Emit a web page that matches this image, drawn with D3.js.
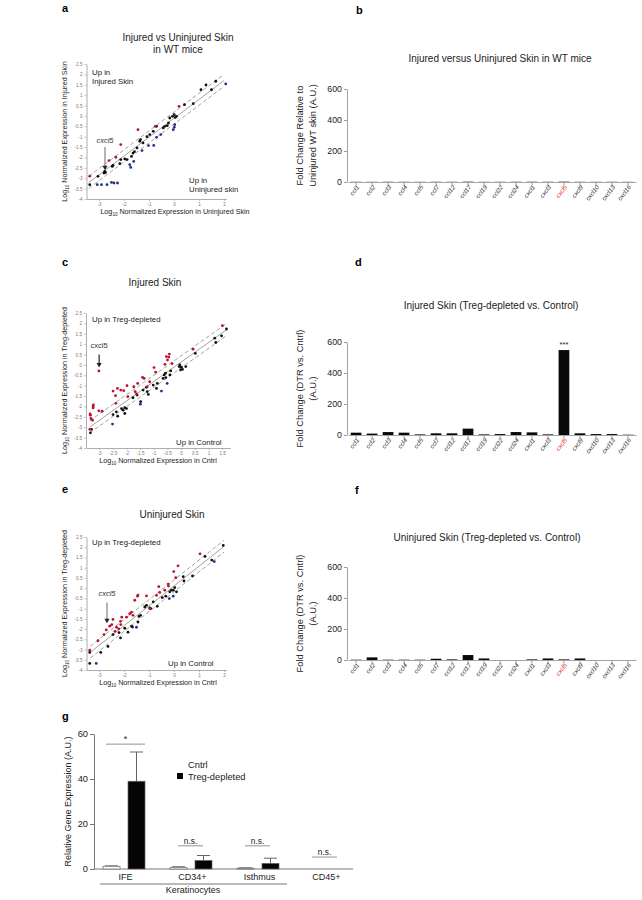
<!DOCTYPE html>
<html>
<head>
<meta charset="utf-8">
<script src="https://cdn.jsdelivr.net/npm/d3@7"></script>
<style>
	body { margin: 0; background: #fff; }
	text { font-family: Arial, "Liberation Sans", sans-serif; }
</style>
</head>
<body>
<svg id="fig" width="642" height="900"></svg>
<script>
// ---------- data ----------
const genes = ["ccl1", "ccl2", "ccl3", "ccl4", "ccl5", "ccl7", "ccl12", "ccl17", "ccl19", "ccl22", "ccl24", "cxcl1", "cxcl3", "cxcl5", "cxcl9", "cxcl10", "cxcl13", "cxcl16"]
const foldB = [1.2, 1, 1.5, 1.1, 1, 1.3, 1.2, 2, 1, 1.1, 1.4, 1.6, 1.3, 2.2, 1.1, 1, 1.2, 1]
const foldD = [15, 9, 19, 15, 4, 11, 11, 41, 4, 6, 19, 17, 4, 548, 11, 6, 6, 2]
const foldF = [2, 17, 2, 2, 2, 8, 4, 32, 10, 0, 0, 4, 10, 4, 10, 0, 0, 0]
const barTicks = [0, 200, 400, 600]

const scatterYTicks = [2.5, 2, 1.5, 1, 0.5, 0, -0.5, -1, -1.5, -2, -2.5, -3, -3.5, -4]
const ticksWide = [-3, -2, -1, 0, 1, 2]
const ticksHalf = [-3, -2.5, -2, -1.5, -1, -0.5, 0, 0.5, 1, 1.5]

// panel a : injured (y) vs uninjured (x), WT
const aRed = [[-3.37, -2.9], [-2.13, -1.38], [-2.6, -2.15], [-2.33, -1.99], [-1.44, -0.66], [-0.75, -0.5], [0.2, 0.46]]
const aBlue = [[-3.07, -3.31], [-2.9, -3.31], [-2.68, -3.31], [-2.5, -3.2], [-2.4, -3.23], [-2.26, -3.23], [-1.73, -2.48], [-1.77, -2.35], [-1.61, -2.19], [-1.28, -1.67], [-1.02, -1.43], [-0.81, -1.42], [-0.7, -1.03], [-0.53, -0.9], [-0.03, -0.66], [0.01, -0.55], [0.03, -0.42], [2.07, 1.54]]
const aBlack = [[-3.37, -3.31], [-3.04, -2.91], [-2.8, -2.75], [-2.77, -2.67], [-2.74, -2.72], [-2.47, -2.43], [-2.44, -2.38], [-2.17, -2.3], [-2.13, -2.1], [-1.97, -2.07], [-1.88, -2.1], [-1.7, -1.95], [-1.64, -1.79], [-1.58, -1.72], [-1.48, -1.54], [-1.37, -1.22], [-1.34, -1.14], [-1.24, -1.3], [-1.08, -1.0], [-0.97, -0.9], [-0.83, -0.74], [-0.7, -0.5], [-0.43, -0.58], [-0.37, -0.5], [-0.27, -0.47], [-0.22, -0.34], [-0.17, -0.1], [-0.06, -0.02], [0.01, 0.06], [0.05, -0.07], [0.1, -0.02], [0.42, 0.54], [0.77, 0.59], [1.08, 1.26], [1.28, 1.49], [1.5, 1.26], [1.67, 1.67]]
const aFit = [[-3.4, -3.2], [2, 1.7]]

// panel c : injured skin, Treg-depleted (y) vs control (x)
const cRed = [[-3.34, -3.1], [-3.32, -2.42], [-3.33, -2.36], [-3.3, -2.58], [-3.24, -2.66], [-3.22, -2.0], [-3.21, -1.93], [-3.22, -2.07], [-3.01, -2.21], [-2.89, -2.23], [-3.01, -0.29], [-2.49, -1.26], [-2.4, -1.48], [-2.39, -1.85], [-2.33, -1.13], [-2.21, -1.21], [-2.1, -1.24], [-1.98, -1.0], [-1.95, -1.53], [-1.73, -1.05], [-1.68, -1.29], [-1.63, -1.4], [-1.59, -0.89], [-1.41, -0.6], [-1.35, -0.65], [-1.24, -1.05], [-1.15, -0.81], [-0.99, -0.13], [-0.93, -0.35], [-0.59, 0.03], [-0.54, 0.4], [-0.5, 0.24], [-0.43, 0.52], [-0.45, 0.38], [-0.33, 0.06], [0.44, 0.76], [1.51, 1.89]]
const cBlue = [[-2.51, -2.85], [-1.49, -1.89], [-0.72, -1.26], [-0.51, -0.89]]
const cBlack = [[-3.32, -3.27], [-3.28, -3.1], [-2.49, -2.39], [-2.37, -2.26], [-2.32, -2.47], [-2.18, -2.1], [-2.12, -2.18], [-2.06, -2.06], [-2.0, -2.1], [-2.06, -2.34], [-1.76, -1.58], [-1.61, -1.45], [-1.48, -1.77], [-1.39, -1.21], [-1.27, -1.08], [-1.24, -1.29], [-1.2, -1.42], [-1.02, -0.97], [-0.9, -1.13], [-0.87, -0.89], [-0.66, -0.65], [-0.62, -0.48], [-0.57, -0.4], [-0.56, -0.61], [-0.41, -0.48], [-0.38, -0.29], [-0.07, -0.08], [-0.05, 0.0], [0.01, -0.11], [0.05, -0.21], [-0.02, -0.24], [0.17, -0.08], [0.52, 0.56], [1.23, 1.29], [1.27, 1.08], [1.48, 1.4], [1.66, 1.73]]
const cFit = [[-3.35, -3.0], [1.66, 1.69]]

// panel e : uninjured skin, Treg-depleted (y) vs control (x)
const eRed = [[-3.37, -3.03], [-3.04, -2.57], [-2.8, -2.27], [-2.71, -2.04], [-2.57, -1.86], [-2.49, -1.78], [-2.44, -1.53], [-2.36, -2.11], [-2.3, -1.91], [-2.21, -1.99], [-2.13, -1.78], [-2.09, -1.42], [-2.14, -1.62], [-1.9, -1.42], [-1.77, -1.25], [-1.7, -1.17], [-1.64, -1.33], [-1.57, -0.59], [-1.46, -0.39], [-1.44, -0.34], [-1.1, -0.38], [-0.97, -1.0], [-0.7, -0.35], [-0.61, 0.07], [-0.57, -0.21], [-0.37, -0.1], [-0.23, 0.2], [-0.22, 0.1], [-0.01, 0.81], [0.07, 0.51], [0.16, 1.09], [1.04, 1.68]]
const eBlue = [[-3.11, -3.68], [-1.5, -1.91], [-0.19, -0.51], [-0.03, -0.39], [1.61, 1.3]]
const eBlack = [[-3.37, -3.14], [-3.37, -3.68], [-2.93, -3.14], [-2.64, -2.85], [-2.44, -2.27], [-2.2, -2.17], [-2.14, -2.43], [-1.97, -1.96], [-1.84, -2.15], [-1.7, -1.86], [-1.66, -1.9], [-1.44, -1.66], [-1.4, -1.38], [-1.34, -1.33], [-1.17, -0.92], [-1.1, -0.84], [-0.97, -0.97], [-0.93, -1.0], [-0.83, -0.67], [-0.67, -0.89], [-0.47, -0.46], [-0.33, -0.39], [-0.17, -0.18], [-0.1, -0.1], [-0.03, -0.1], [0.03, 0.03], [0.1, -0.18], [0.37, 0.56], [0.4, 0.35], [0.74, 0.6], [1.24, 1.55], [1.51, 1.37], [1.97, 2.09]]
const eFit = [[-3.35, -3.14], [2, 2.04]]

// panel g : cxcl5 in sorted populations
const gCats = ["IFE", "CD34+", "Isthmus", "CD45+"]
const gCntrl = [1.2, 0.6, 0.4, 0]
const gCntrlErr = [0.2, 0.4, 0.1, 0]
const gTreg = [39, 3.8, 2.5, 0]
const gTregErr = [13, 2.2, 2.3, 0]
const gSig = ["*", "n.s.", "n.s.", "n.s."]
const gSigLevel = [55.5, 10.3, 10.3, 5.3]
const gTicks = [0, 20, 40, 60]

// ---------- drawing ----------
const svg = d3.select("#fig")
const red = "#bf1030", blue = "#24338a", axisGrey = "#9a9a9a"

function panelLetter(t, x, y) {
	svg.append("text").attr("x", x).attr("y", y)
		.attr("font-size", 11).attr("font-weight", "bold").text(t)
}

function logLabel(sel, rest) {
	sel.append("tspan").text("Log")
	sel.append("tspan").attr("font-size", 4.5).attr("dy", 2).text("10")
	sel.append("tspan").attr("dy", -2).text(" " + rest)
}

function scatter(p) {
	const g = svg.append("g")
	const x = d3.scaleLinear().domain(p.xDom).range(p.xRange)
	const y = d3.scaleLinear().domain([-4, 2.5]).range(p.yRange)

	const ya = g.append("g").attr("transform", `translate(${p.xRange[0]},0)`)
		.call(d3.axisLeft(y).tickValues(scatterYTicks).tickSize(2).tickSizeOuter(0).tickPadding(2).tickFormat(d => String(d)))
	const xa = g.append("g").attr("transform", `translate(0,${p.yRange[0]})`)
		.call(d3.axisBottom(x).tickValues(p.xTicks).tickSize(2).tickSizeOuter(0).tickPadding(2).tickFormat(d => String(d)))
	for (const a of [ya, xa]) {
		a.select(".domain").attr("stroke", axisGrey).attr("stroke-width", 0.8)
		a.selectAll(".tick line").attr("stroke", axisGrey).attr("stroke-width", 0.6)
		a.selectAll(".tick text").attr("fill", "#777").attr("font-size", 4.6).attr("font-family", "Arial")
	}

	// fit line and 2-fold band
	const off = [0.3, 0, -0.28]
	off.forEach(o => {
		g.append("line")
			.attr("x1", x(p.fit[0][0])).attr("y1", y(p.fit[0][1] + o))
			.attr("x2", x(p.fit[1][0])).attr("y2", y(p.fit[1][1] + o))
			.attr("stroke", "#8c8c8c").attr("stroke-width", 0.8)
			.attr("stroke-dasharray", o === 0 ? null : "4,2.5")
	})

	const sets = [[p.black, "#111"], [p.red, red], [p.blue, blue]]
	sets.forEach(([pts, col]) => {
		g.selectAll(null).data(pts).enter().append("circle")
			.attr("cx", d => x(d[0])).attr("cy", d => y(d[1]))
			.attr("r", 1.4).attr("fill", col)
	})

	// cxcl5 arrow
	const ar = p.arrow
	g.append("text").attr("x", x(ar.x)).attr("y", y(ar.text))
		.attr("text-anchor", "middle").attr("font-size", 7.5)
		.attr("font-style", ar.italic ? "italic" : "normal").attr("fill", "#333").text("cxcl5")
	g.append("line").attr("x1", x(ar.x)).attr("x2", x(ar.x))
		.attr("y1", y(ar.y0)).attr("y2", y(ar.y1) - 3)
		.attr("stroke", ar.color).attr("stroke-width", 1.1)
	g.append("path")
		.attr("d", `M${x(ar.x) - 2.6},${y(ar.y1) - 4.5} L${x(ar.x) + 2.6},${y(ar.y1) - 4.5} L${x(ar.x)},${y(ar.y1)} Z`)
		.attr("fill", "#222")

	// corner notes
	p.notes.forEach(n => {
		const t = g.append("text").attr("x", n.x).attr("y", n.y).attr("font-size", 7.8).attr("fill", "#222")
		n.lines.forEach((l, i) => t.append("tspan").attr("x", n.x).attr("dy", i ? 9 : 0).text(l))
	})

	// titles and axis labels
	const tt = g.append("text").attr("x", p.titleX).attr("y", p.titleY)
		.attr("text-anchor", "middle").attr("font-size", 10).attr("fill", "#222")
	p.title.forEach((l, i) => tt.append("tspan").attr("x", p.titleX).attr("dy", i ? 12 : 0).text(l))

	const xl = g.append("text").attr("x", p.xLabelX).attr("y", p.yRange[0] + 15)
		.attr("text-anchor", "middle").attr("font-size", 7.2).attr("fill", "#222")
	logLabel(xl, p.xLabel)
	const yc = (p.yRange[0] + p.yRange[1]) / 2
	const yl = g.append("text").attr("transform", `translate(67,${yc}) rotate(-90)`)
		.attr("text-anchor", "middle").attr("font-size", 7.2).attr("fill", "#222")
	logLabel(yl, p.yLabel)
}

function bars(p) {
	const g = svg.append("g")
	const x = d3.scaleBand().domain(genes).range([348, 636]).paddingInner(0.33).paddingOuter(0.17)
	const y = d3.scaleLinear().domain([0, 600]).range(p.yRange)

	const ya = g.append("g").attr("transform", "translate(347,0)")
		.call(d3.axisLeft(y).tickValues(barTicks).tickSize(3).tickSizeOuter(0).tickPadding(2))
	const xa = g.append("g").attr("transform", `translate(0,${p.yRange[0]})`)
		.call(d3.axisBottom(x).tickSize(3).tickSizeOuter(0))
	for (const a of [ya, xa]) {
		a.select(".domain").attr("stroke", axisGrey).attr("stroke-width", 0.9)
		a.selectAll(".tick line").attr("stroke", axisGrey)
	}
	ya.selectAll(".tick text").attr("fill", "#222").attr("font-size", 8.8).attr("font-family", "Arial")
	xa.selectAll(".tick text")
		.attr("font-size", 6.2).attr("font-style", "italic").attr("font-family", "Arial")
		.attr("fill", d => d === "cxcl5" ? "#e8202a" : "#2a2a2a")
		.attr("text-anchor", "end").attr("dy", 0).attr("y", 4)
		.attr("transform", "rotate(-52) translate(-2,2)")

	g.selectAll(null).data(p.values).enter().append("rect")
		.attr("x", (d, i) => x(genes[i]))
		.attr("width", x.bandwidth())
		.attr("y", d => y(d))
		.attr("height", d => y(0) - y(d))
		.attr("fill", "#0a0a0a")

	if (p.stars) {
		const i = genes.indexOf(p.stars.gene)
		g.append("text").attr("x", x(genes[i]) + x.bandwidth() / 2).attr("y", y(p.values[i]) - 3)
			.attr("text-anchor", "middle").attr("font-size", 7.5).attr("fill", "#222").text(p.stars.text)
	}

	g.append("text").attr("x", p.titleX).attr("y", p.titleY)
		.attr("text-anchor", "middle").attr("font-size", 10).attr("fill", "#222").text(p.title)
	const yc = (p.yRange[0] + p.yRange[1]) / 2
	const yl = g.append("text").attr("transform", `translate(303,${yc}) rotate(-90)`)
		.attr("text-anchor", "middle").attr("font-size", 9.3).attr("fill", "#222")
	p.yLabel.forEach((l, i) => yl.append("tspan").attr("x", 0).attr("dy", i ? 12.5 : 0).text(l))
}

scatter({
	xDom: [-3.5, 2.1], xRange: [86.5, 226.5], yRange: [199, 64], xTicks: ticksWide,
	red: aRed, blue: aBlue, black: aBlack, fit: aFit,
	arrow: { x: -2.76, text: -1.3, y0: -1.5, y1: -2.62, italic: true, color: "#777" },
	notes: [{ x: 92, y: 75, lines: ["Up in", "Injured Skin"] }, { x: 189, y: 183, lines: ["Up in", "Uninjured skin"] }],
	title: ["Injured vs Uninjured Skin", "in WT mice"], titleX: 178, titleY: 41,
	xLabel: "Normalized Expression in Uninjured Skin", xLabelX: 175,
	yLabel: "Normalized Expression in Injured Skin"
})
scatter({
	xDom: [-3.48, 1.8], xRange: [86, 230.3], yRange: [448, 313], xTicks: ticksHalf,
	red: cRed, blue: cBlue, black: cBlack, fit: cFit,
	arrow: { x: -3.0, text: 0.8, y0: 0.5, y1: -0.12, italic: false, color: "#111" },
	notes: [{ x: 92, y: 322, lines: ["Up in Treg-depleted"] }, { x: 176, y: 445, lines: ["Up in Control"] }],
	title: ["Injured Skin"], titleX: 155, titleY: 286,
	xLabel: "Normalized Expression in Cntrl", xLabelX: 158,
	yLabel: "Normalized Expression in Treg-depleted"
})
scatter({
	xDom: [-3.5, 2.1], xRange: [86.5, 226.5], yRange: [670, 537], xTicks: ticksWide,
	red: eRed, blue: eBlue, black: eBlack, fit: eFit,
	arrow: { x: -2.68, text: -0.4, y0: -0.7, y1: -1.72, italic: true, color: "#777" },
	notes: [{ x: 92, y: 545, lines: ["Up in Treg-depleted"] }, { x: 168, y: 666, lines: ["Up in Control"] }],
	title: ["Uninjured Skin"], titleX: 172, titleY: 518,
	xLabel: "Normalized Expression in Cntrl", xLabelX: 158,
	yLabel: "Normalized Expression in Treg-depleted"
})

bars({ values: foldB, yRange: [182, 89], title: "Injured versus Uninjured Skin in WT mice", titleX: 500, titleY: 62,
	yLabel: ["Fold Change Relative to", "Uninjured WT skin (A.U.)"] })
bars({ values: foldD, yRange: [435, 342], title: "Injured Skin (Treg-depleted vs. Control)", titleX: 491, titleY: 309,
	yLabel: ["Fold Change (DTR vs. Cntrl)", "(A.U.)"], stars: { gene: "cxcl5", text: "***" } })
bars({ values: foldF, yRange: [660, 567], title: "Uninjured Skin (Treg-depleted vs. Control)", titleX: 487, titleY: 541,
	yLabel: ["Fold Change (DTR vs. Cntrl)", "(A.U.)"] })

// panel g
{
	const g = svg.append("g")
	const x = d3.scaleBand().domain(gCats).range([92, 360])
	const y = d3.scaleLinear().domain([0, 60]).range([869, 734])
	const bw = 17

	const ya = g.append("g").attr("transform", "translate(94,0)")
		.call(d3.axisLeft(y).tickValues(gTicks).tickSize(4).tickSizeOuter(0).tickPadding(2))
	ya.select(".domain").attr("stroke", "#777")
	ya.selectAll(".tick line").attr("stroke", "#777")
	ya.selectAll(".tick text").attr("fill", "#222").attr("font-size", 9.3).attr("font-family", "Arial")
	g.append("line").attr("x1", 94).attr("x2", 353).attr("y1", y(0)).attr("y2", y(0)).attr("stroke", "#777")

	const cx = c => x(c) + x.bandwidth() / 2
	const series = [[gCntrl, gCntrlErr, -14, "#fff"], [gTreg, gTregErr, 11, "#050505"]]
	series.forEach(([vals, errs, dx, fill]) => {
		gCats.forEach((c, i) => {
			if (vals[i] <= 0) return
			const xc = cx(c) + dx
			g.append("line").attr("x1", xc).attr("x2", xc).attr("y1", y(vals[i])).attr("y2", y(vals[i] + errs[i]))
				.attr("stroke", "#555").attr("stroke-width", 0.9)
			g.append("line").attr("x1", xc - 6.5).attr("x2", xc + 6.5)
				.attr("y1", y(vals[i] + errs[i])).attr("y2", y(vals[i] + errs[i]))
				.attr("stroke", "#555").attr("stroke-width", 0.9)
			g.append("rect").attr("x", xc - bw / 2).attr("width", bw)
				.attr("y", y(vals[i])).attr("height", y(0) - y(vals[i]))
				.attr("fill", fill).attr("stroke", "#666").attr("stroke-width", 0.7)
		})
	})

	gCats.forEach((c, i) => {
		const w = i === 0 ? 39 : 25
		const xc = cx(c) + (i === 0 ? 0 : -2)
		g.append("line").attr("x1", xc - w / 2).attr("x2", xc + w / 2)
			.attr("y1", y(gSigLevel[i])).attr("y2", y(gSigLevel[i])).attr("stroke", "#777").attr("stroke-width", 0.8)
		g.append("text").attr("x", xc).attr("y", y(gSigLevel[i]) - 2).attr("text-anchor", "middle")
			.attr("font-size", i === 0 ? 9 : 8.3).attr("fill", "#222").text(gSig[i])
		g.append("text").attr("x", cx(c)).attr("y", 880).attr("text-anchor", "middle")
			.attr("font-size", 9).attr("fill", "#222").text(c)
	})

	g.append("line").attr("x1", 100).attr("x2", 287).attr("y1", 884).attr("y2", 884).attr("stroke", "#777")
	g.append("text").attr("x", 193).attr("y", 893).attr("text-anchor", "middle")
		.attr("font-size", 9).attr("fill", "#222").text("Keratinocytes")

	g.append("text").attr("transform", `translate(71,${(y(0) + y(60)) / 2}) rotate(-90)`)
		.attr("text-anchor", "middle").attr("font-size", 9).attr("fill", "#222")
		.text("Relative Gene Expression (A.U.)")

	// legend
	g.append("rect").attr("x", 177).attr("y", 761).attr("width", 6).attr("height", 6).attr("fill", "#fff")
	g.append("text").attr("x", 188).attr("y", 768).attr("font-size", 9.3).attr("fill", "#222").text("Cntrl")
	g.append("rect").attr("x", 177).attr("y", 773).attr("width", 6).attr("height", 6).attr("fill", "#050505")
	g.append("text").attr("x", 188).attr("y", 780).attr("font-size", 9.3).attr("fill", "#222").text("Treg-depleted")
}

panelLetter("a", 62, 12)
panelLetter("b", 356, 14)
panelLetter("c", 62, 266)
panelLetter("d", 355, 266)
panelLetter("e", 62, 493)
panelLetter("f", 355, 494)
panelLetter("g", 62, 720)
</script>
</body>
</html>
